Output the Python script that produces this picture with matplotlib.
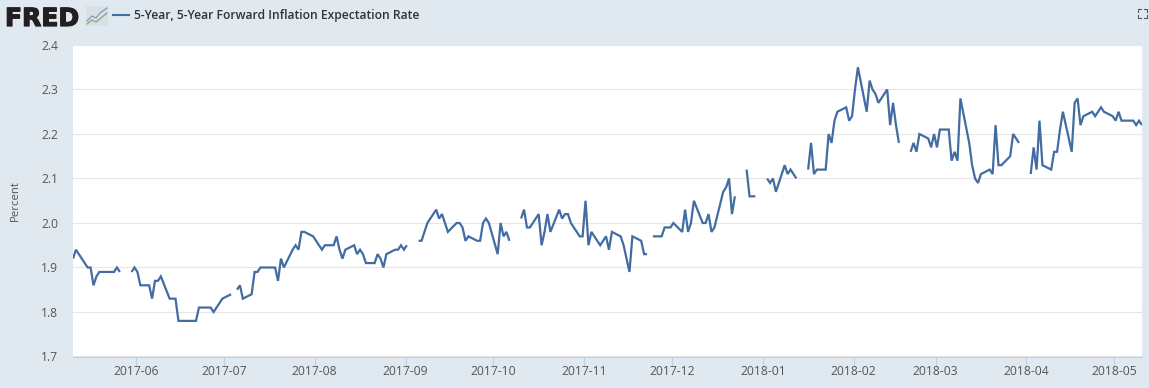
import matplotlib
matplotlib.use('Agg')
import matplotlib.patheffects as pe
import matplotlib.pyplot as plt
import numpy as np
import pandas as pd
from matplotlib.lines import Line2D
from matplotlib.patches import Rectangle

nan = float('nan')

title = '5-Year, 5-Year Forward Inflation Expectation Rate'
ylabel = 'Percent'
yticks = [1.7, 1.8, 1.9, 2.0, 2.1, 2.2, 2.3, 2.4]
month_starts = ['2017-06-01', '2017-07-01', '2017-08-01', '2017-09-01', '2017-10-01', '2017-11-01',
                '2017-12-01', '2018-01-01', '2018-02-01', '2018-03-01', '2018-04-01', '2018-05-01']

# one row per week, business days, nan on market holidays
values = [
    1.92, 1.94, 1.93,
    1.90, 1.90, 1.86, 1.88, 1.89,
    1.89, 1.89, 1.89, 1.90, 1.89,
    nan, 1.89, 1.90, 1.89, 1.86,
    1.86, 1.83, 1.87, 1.87, 1.88,
    1.83, 1.83, 1.83, 1.78, 1.78,
    1.78, 1.78, 1.78, 1.81, 1.81,
    1.81, 1.80, 1.81, 1.82, 1.83,
    1.84, nan, 1.85, 1.86, 1.83,
    1.84, 1.89, 1.89, 1.90, 1.90,
    1.90, 1.90, 1.87, 1.92, 1.90,
    1.94, 1.95, 1.94, 1.98, 1.98,
    1.97, 1.96, 1.95, 1.94, 1.95,
    1.95, 1.97, 1.94, 1.92, 1.94,
    1.95, 1.93, 1.94, 1.93, 1.91,
    1.91, 1.93, 1.92, 1.90, 1.93,
    1.94, 1.94, 1.95, 1.94, 1.95,
    nan, 1.96, 1.96, 1.98, 2.00,
    2.03, 2.01, 2.02, 2.00, 1.98,
    2.00, 2.00, 1.99, 1.96, 1.97,
    1.96, 1.96, 2.00, 2.01, 2.00,
    1.93, 2.00, 1.97, 1.98, 1.96,
    nan, 2.01, 2.03, 1.99, 1.99,
    2.02, 1.95, 1.98, 2.02, 1.98,
    2.03, 2.01, 2.02, 2.02, 2.00,
    1.97, 1.97, 2.05, 1.95, 1.98,
    1.95, 1.96, 1.97, 1.94, 1.98,
    1.97, 1.95, 1.92, 1.89, 1.97,
    1.96, 1.93, 1.93, nan, 1.97,
    1.97, 1.99, 1.99, 1.99, 2.00,
    1.98, 2.03, 1.98, 2.00, 2.05,
    2.00, 2.00, 2.02, 1.98, 1.99,
    2.07, 2.08, 2.10, 2.02, 2.06,
    nan, 2.12, 2.06, 2.06, 2.06,
    nan, 2.10, 2.09, 2.10, 2.07,
    2.13, 2.11, 2.12, 2.11, 2.10,
    nan, 2.12, 2.18, 2.11, 2.12,
    2.12, 2.20, 2.18, 2.23, 2.25,
    2.26, 2.23, 2.24, 2.30, 2.35,
    2.25, 2.32, 2.30, 2.29, 2.27,
    2.30, 2.22, 2.27, 2.22, 2.18,
    nan, 2.16, 2.18, 2.16, 2.20,
    2.19, 2.17, 2.20, 2.17, 2.21,
    2.21, 2.14, 2.16, 2.14, 2.28,
    2.18, 2.13, 2.10, 2.09, 2.11,
    2.12, 2.11, 2.22, 2.13, 2.13,
    2.15, 2.20, 2.19, 2.18, nan,
    2.11, 2.17, 2.12, 2.23, 2.13,
    2.12, 2.16, 2.16, 2.21, 2.25,
    2.16, 2.27, 2.28, 2.22, 2.24,
    2.25, 2.24, 2.25, 2.26, 2.25,
    2.24, 2.23, 2.25, 2.23, 2.23,
    2.23, 2.22, 2.23, 2.22,
]

dates = pd.bdate_range('2017-05-10', '2018-05-10')

W, H = 1149, 388
BG = '#e1e9f0'
LINE = '#426ca2'
TXT = '#555555'

plt.rcParams['font.family'] = ['Open Sans', 'DejaVu Sans']

fig = plt.figure(figsize=(W / 100, H / 100), dpi=100, facecolor=BG)
ax = fig.add_axes([73 / W, 1 - 356.5 / H, (1142 - 73) / W, (356.5 - 45) / H])
ax.plot(dates, values, color=LINE, lw=1.6, solid_joinstyle='miter', solid_capstyle='butt')

# points sit about half a day to the right of the month ticks in the original
ticks = pd.to_datetime(month_starts) - pd.Timedelta(hours=11)
ax.set_xlim(pd.Timestamp('2017-05-10'), pd.Timestamp('2018-05-10'))
ax.set_ylim(1.7, 2.4)
ax.set_xticks(ticks)
ax.set_xticklabels([d[:7] for d in month_starts], fontsize=8.7, color=TXT)
ax.set_yticks(yticks)
ax.set_yticklabels(['%.1f' % v for v in yticks], fontsize=8.7, color=TXT)
ax.tick_params(axis='x', length=7.5, width=0.7, color='#c0d0e0', pad=-1.4)
ax.tick_params(axis='y', length=0, pad=10.5)
ax.grid(axis='y', color='#e6e6e6', lw=0.8)
ax.set_axisbelow(True)
for side in ['top', 'right', 'left']:
    ax.spines[side].set_visible(False)
ax.spines['bottom'].set_color('#c0d0e0')
ax.spines['bottom'].set_linewidth(0.8)

fig.text(15.5 / W, 1 - 201 / H, ylabel, rotation=90, fontsize=8.2, color=TXT, ha='center', va='center')

# header: logo, legend key, title
logo = fig.text(5 / W, 1 - 26 / H, 'FRED', family='DejaVu Sans', weight='bold', fontsize=18, color='#231f20', ha='left', va='baseline')
logo.set_path_effects([pe.withStroke(linewidth=0.9, foreground='#231f20')])
fig.add_artist(Rectangle((86 / W, 1 - 26 / H), 22 / W, 20 / H, transform=fig.transFigure, color='#d8e0e5', lw=0))
fig.add_artist(Line2D(np.array([87, 92, 96, 100, 107]) / W, 1 - np.array([21, 16, 18, 13, 8]) / H, color='#7f9bbb', lw=0.9))
fig.add_artist(Line2D(np.array([87, 92, 96, 101, 107]) / W, 1 - np.array([24, 20, 22, 18, 13]) / H, color='#8aa36f', lw=0.9))
fig.add_artist(Line2D(np.array([113, 128.5]) / W, 1 - np.array([15, 15]) / H, color=LINE, lw=1.5))
fig.text(133.5 / W, 1 - 15.5 / H, title, fontsize=8.7, color='#333333', ha='left', va='center', weight='semibold')

# fullscreen corners, top right
for x0, y0, dx, dy in [(1138, 9, 1, 1), (1147, 9, -1, 1), (1138, 18, 1, -1), (1147, 18, -1, -1)]:
    fig.add_artist(Line2D(np.array([x0 + 3 * dx, x0, x0]) / W, 1 - np.array([y0, y0, y0 + 3 * dy]) / H, color='#555555', lw=0.8))

fig.savefig('out.png', dpi=100, facecolor=BG)
